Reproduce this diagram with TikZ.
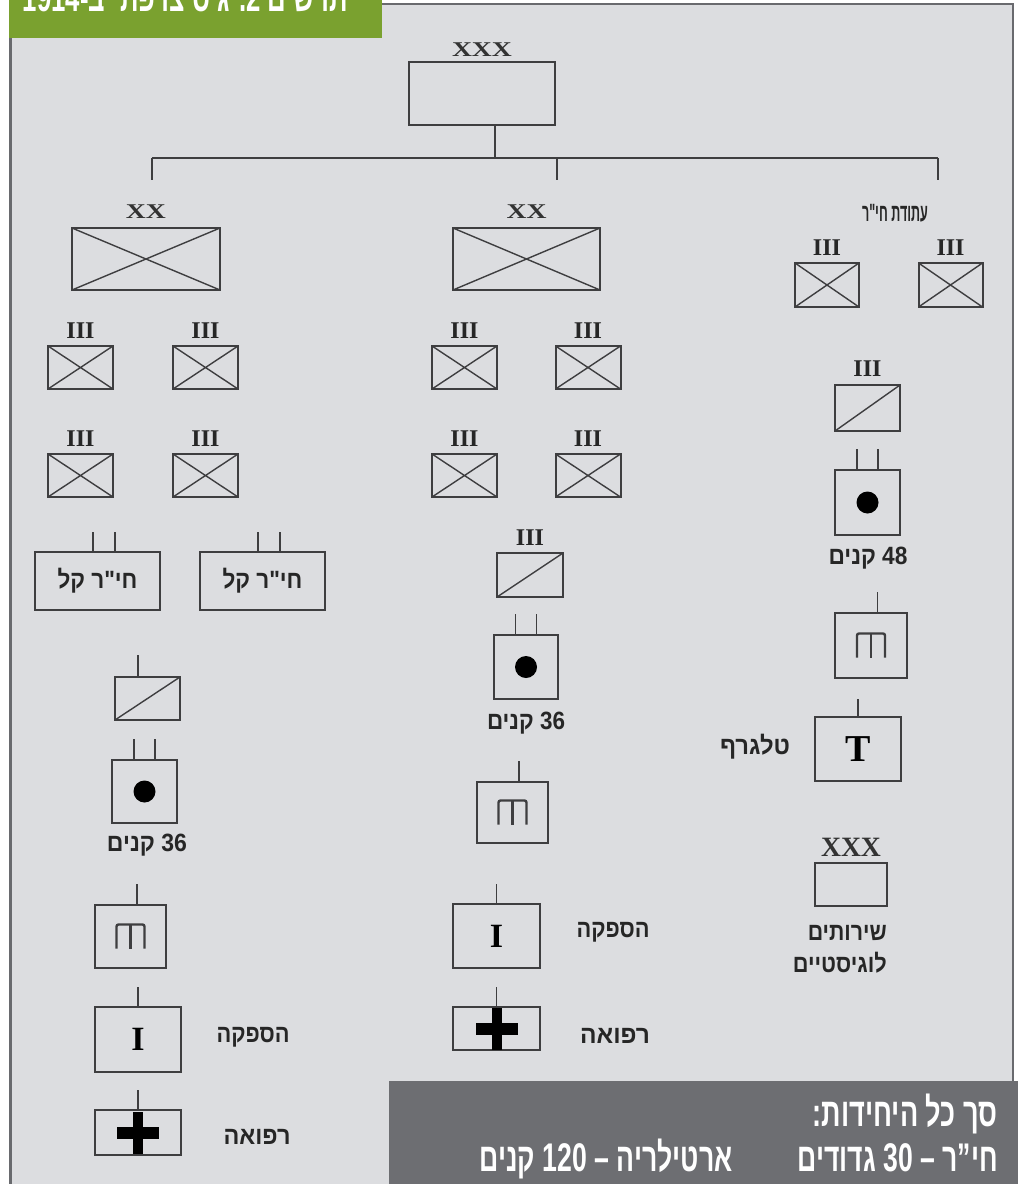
\documentclass[tikz,border=0pt]{standalone}
\usepackage{fontspec}
\setmainfont{Liberation Serif}
\newfontfamily\hebfont[Script=Hebrew]{Liberation Sans}
\TeXXeTstate=1
\usetikzlibrary{calc,positioning}

\definecolor{paper}{RGB}{220,221,224}
\definecolor{ink}{RGB}{62,62,64}
\definecolor{framegray}{RGB}{105,106,110}
\definecolor{titlegreen}{RGB}{122,161,47}
\definecolor{totalsgray}{RGB}{109,110,114}

% hebrew text squeezed to a given width (pt)
\newcommand\heb[2]{\resizebox{#1pt}{\height}{\beginR #2\endR}}

\tikzset{
  unit/.style={draw=ink, line width=2pt, inner sep=0pt, outer sep=0pt, minimum width=65pt, minimum height=43pt},
  cross/.style={draw=ink, line width=1.4pt},
  tick/.style={draw=ink, line width=1.6pt},
  bus/.style={draw=ink, line width=2pt},
  label/.style={font=\hebfont\bfseries\fontsize{25}{25}\selectfont, inner sep=0pt, text=black!85},
  echelon/.style={font=\bfseries\fontsize{21}{21}\selectfont, inner sep=0pt, text=black!80},
  roman/.style={font=\bfseries\fontsize{24}{24}\selectfont, inner sep=0pt, text=black!85},
  totals/.style={font=\hebfont\bfseries\fontsize{40}{40}\selectfont, inner sep=0pt, text=white},
  mglyph/.pic={\draw[ink, line width=2.4pt, rounded corners=2pt] (-14,12) -- (-14,-12) -- (14,-12) -- (14,12);
               \draw[ink, line width=2.4pt] (0,-12) -- (0,12);},
  medic/.pic={\fill[black] (-21,-6) rectangle (21,6); \fill[black] (-5,-21) rectangle (5,21);}
}

\begin{document}
\begin{tikzpicture}[x=1pt,y=-1pt]
\useasboundingbox (0,0) rectangle (1018,1184);
\clip (0,0) rectangle (1018,1184);

% frame and title
\fill[paper] (11,4) rectangle (1013,1184);
\draw[framegray, line width=2.5pt] (10.5,38) -- (10.5,1184);
\draw[framegray, line width=2pt] (382,4) -- (1013,4) -- (1013,1081);
\fill[titlegreen] (9,-1) rectangle (382,38);
\node[totals, anchor=base east] (title) at (348,11) {\heb{325}{תרשים \beginL 2\endL. גיס צרפתי ב-\beginL 1914\endL}};

% corps
\node[unit, minimum width=146pt, minimum height=63pt] (corps) at (482,93.5) {};
\node[echelon, above=5pt of corps] (corpsx) {\resizebox{60pt}{\height}{XXX}};
\coordinate (busC) at (495,158);
\coordinate (busL) at (152,158);
\coordinate (busM) at (557,158);
\coordinate (busR) at (938,158);
\coordinate (dropL) at (152,180);
\coordinate (dropM) at (557,180);
\coordinate (dropR) at (938,180);
\draw[bus] (busC |- corps.south) -- (busC);
\draw[bus] (busL) -- (busR);
\draw[bus] (busL) -- (dropL);
\draw[bus] (busM) -- (dropM);
\draw[bus] (busR) -- (dropR);

% divisions
\node[unit, minimum width=148pt, minimum height=62pt] (divL) at (146,259) {};
\node[unit, minimum width=147pt, minimum height=62pt] (divM) at (526.5,259) {};
\node[echelon, above=9pt of divL] (divLx) {\resizebox{40pt}{\height}{XX}};
\node[echelon, above=9pt of divM] (divMx) {\resizebox{40pt}{\height}{XX}};

% reserve
\node[label] (reserve) at (895,213) {\heb{66}{עתודת חי"ר}};
\node[unit, minimum width=64pt, minimum height=44pt] (res1) at (827,285) {};
\node[unit, minimum width=64pt, minimum height=44pt] (res2) at (950.5,285) {};

% regiments
\node[unit] (regL1) at (80.5,367.5) {};
\node[unit] (regL2) at (205.5,367.5) {};
\node[unit] (regL3) at (80.5,475.5) {};
\node[unit] (regL4) at (205.5,475.5) {};
\node[unit] (regM1) at (464.5,367.5) {};
\node[unit] (regM2) at (588,367.5) {};
\node[unit] (regM3) at (464.5,475.5) {};
\node[unit] (regM4) at (588,475.5) {};
\foreach \n in {res1,res2,regL1,regL2,regL3,regL4,regM1,regM2,regM3,regM4}
  \node[roman, above=7pt of \n] (\n-iii) {III};
\foreach \n in {divL,divM,res1,res2,regL1,regL2,regL3,regL4,regM1,regM2,regM3,regM4}
  \draw[cross] (\n.north west) -- (\n.south east) (\n.north east) -- (\n.south west);

% light infantry
\node[unit, label, minimum width=125pt, minimum height=58pt] (lightL) at (97.5,581) {\heb{80}{חי"ר קל}};
\node[unit, label, minimum width=125pt, minimum height=58pt] (lightR) at (262.5,581) {\heb{80}{חי"ר קל}};
\foreach \n in {lightL,lightR}
  \draw[tick] ([xshift=-4.5pt]\n.north) -- ++(0,-20) ([xshift=17.5pt]\n.north) -- ++(0,-20);

% cavalry (slash)
\node[unit] (cavL) at (147.5,698.5) {};
\node[unit, minimum width=66pt, minimum height=44pt] (cavM) at (530,575) {};
\node[unit, minimum height=46pt] (cavR) at (867.5,408) {};
\node[roman, above=7pt of cavM] (cavM-iii) {III};
\node[roman, above=8pt of cavR] (cavR-iii) {III};
\foreach \n in {cavL,cavM,cavR}
  \draw[cross] (\n.south west) -- (\n.north east);
\draw[tick] ([xshift=-9.5pt]cavL.north) -- ++(0,-22);

% artillery
\node[unit, minimum height=63pt] (artL) at (144.5,791.5) {};
\node[unit, minimum width=64pt, minimum height=64pt] (artM) at (526,667) {};
\node[unit, minimum height=65pt] (artR) at (867.5,502.5) {};
\foreach \n in {artL,artM,artR}{
  \fill[black] (\n.center) circle (11pt);
  \draw[tick] ([xshift=-10.5pt]\n.north) -- ++(0,-21) ([xshift=10.5pt]\n.north) -- ++(0,-21);
}
\node[label] (gunsL) at (147,845) {\heb{80}{\beginL 36\endL{} קנים}};
\node[label] (gunsM) at (526,723) {\heb{78}{\beginL 36\endL{} קנים}};
\node[label] (gunsR) at (868,558) {\heb{79}{\beginL 48\endL{} קנים}};

% engineers
\node[unit, minimum width=71pt, minimum height=63pt] (engL) at (130.5,936.5) {};
\node[unit, minimum width=71pt, minimum height=61pt] (engM) at (512.5,812.5) {};
\node[unit, minimum width=72pt, minimum height=65pt] (engR) at (871,645.5) {};
\foreach \n in {engL,engM,engR}{
  \pic at (\n.center) {mglyph};
  \draw[tick] ([xshift=6.5pt]\n.north) -- ++(0,-21);
}

% telegraph
\node[unit, font=\bfseries\fontsize{38}{38}\selectfont, minimum width=86pt, minimum height=64pt] (telR) at (858,749) {T};
\draw[tick] (telR.north) -- ++(0,-18);
\node[label] (telRtxt) at (755,747) {\heb{70}{טלגרף}};

% supply
\node[unit, font=\bfseries\fontsize{34}{34}\selectfont, minimum width=86pt, minimum height=65pt] (supL) at (138,1039.5) {I};
\node[unit, font=\bfseries\fontsize{34}{34}\selectfont, minimum width=87pt, minimum height=64pt] (supM) at (496.5,936) {I};
\node[label] (supLtxt) at (253,1037) {\heb{73}{הספקה}};
\node[label] (supMtxt) at (613,932) {\heb{73}{הספקה}};

% medical
\node[unit, minimum width=86pt, minimum height=45pt] (medL) at (138,1132.5) {};
\node[unit, minimum width=87pt, minimum height=43pt] (medM) at (496.5,1028.5) {};
\foreach \n in {supL,supM,medL,medM}
  \draw[tick] (\n.north) -- ++(0,-20);
\pic at (medL.center) {medic};
\pic at (medM.center) {medic};
\node[label] (medLtxt) at (257,1137) {\heb{67}{רפואה}};
\node[label] (medMtxt) at (615,1036) {\heb{70}{רפואה}};

% logistics
\node[unit, minimum width=72pt, minimum height=43pt] (logR) at (851,884.5) {};
\node[echelon, font=\bfseries\fontsize{28}{28}\selectfont, above=6pt of logR] (logRx) {\resizebox{60pt}{\height}{XXX}};
\node[label, anchor=east] (logRtxt1) at (887,933) {\heb{79}{שירותים}};
\node[label, anchor=east] (logRtxt2) at (887,963) {\heb{94}{לוגיסטיים}};

% totals box
\fill[totalsgray] (389,1081) rectangle (1018,1184);
\node[totals, anchor=base east] (sum) at (998,1126) {\heb{185}{סך כל היחידות:}};
\node[totals, anchor=base east] (sumInf) at (998,1171) {\heb{200}{חי”ר – \beginL 30\endL{} גדודים}};
\node[totals, anchor=base east] (sumArt) at (733,1171) {\heb{253}{ארטילריה – \beginL 120\endL{} קנים}};
\end{tikzpicture}
\end{document}
